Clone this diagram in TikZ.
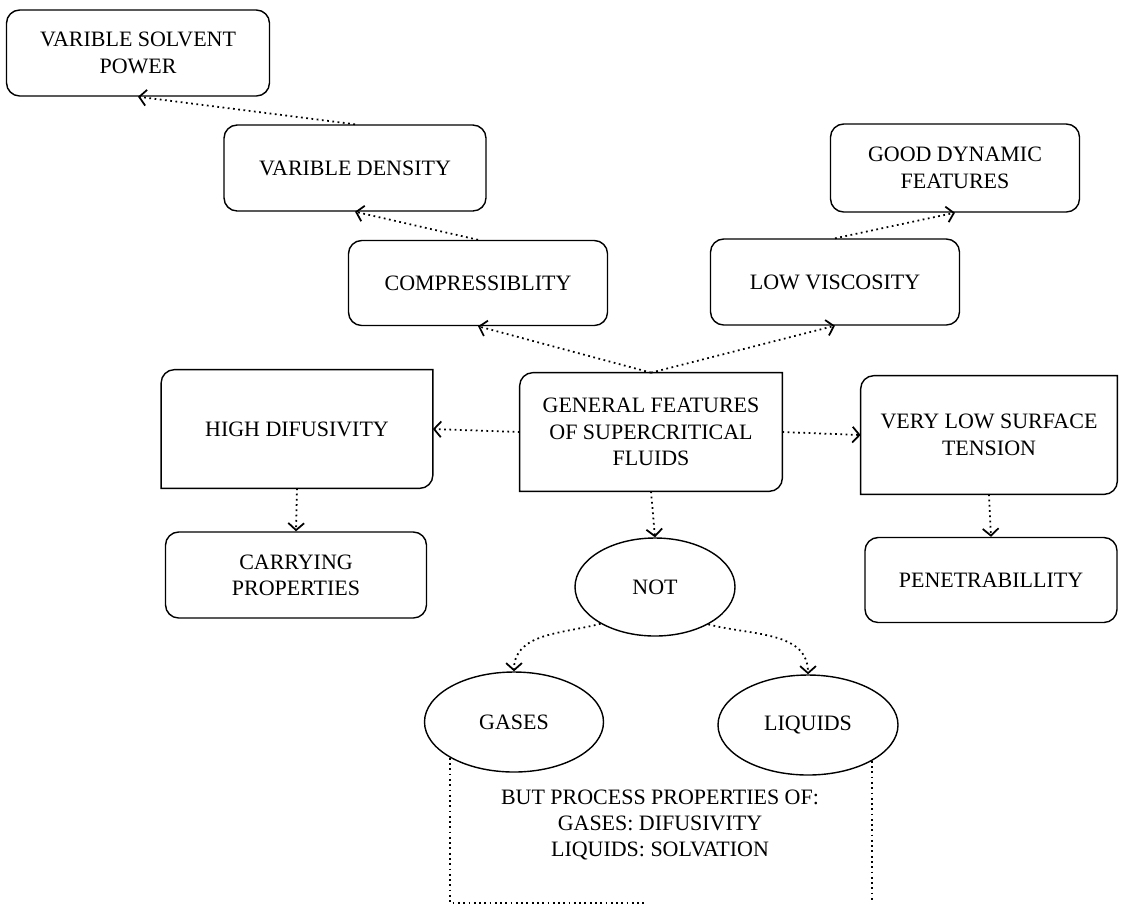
\documentclass[tikz,border=0pt]{standalone}
\usepackage{fontspec}
\setmainfont{Liberation Serif}
\usetikzlibrary{arrows.meta, shapes.geometric}

\begin{document}
\begin{tikzpicture}[
    box/.style={draw, thick, rounded corners=7.5pt, align=center, inner sep=2pt},
    diagbox/.style={align=center, inner sep=2pt},
    oval/.style={draw, thick, ellipse, inner sep=0pt},
    link/.style={dotted, line width=1pt, -{Straight Barb[length=4pt, width=9pt]}},
    font=\fontsize{12.5}{15}\selectfont
]
    \useasboundingbox (0,0) rectangle (22.9,-18.12);

    % Chains going up
    \node[box, minimum width=5.26cm, minimum height=1.72cm] (vsp) at (2.76,-1.06) {VARIBLE SOLVENT\\POWER};
    \node[box, minimum width=5.24cm, minimum height=1.72cm] (vden) at (7.10,-3.36) {VARIBLE DENSITY};
    \node[box, minimum width=5.18cm, minimum height=1.70cm] (comp) at (9.56,-5.66) {COMPRESSIBLITY};
    \node[box, minimum width=4.98cm, minimum height=1.72cm] (lvis) at (16.70,-5.64) {LOW VISCOSITY};
    \node[box, minimum width=4.98cm, minimum height=1.76cm] (gdyn) at (19.10,-3.36) {GOOD DYNAMIC\\FEATURES};

    % Middle row
    \node[diagbox, minimum width=5.42cm, minimum height=2.36cm] (hdif) at (5.94,-8.58) {HIGH DIFUSIVITY};
    \node[diagbox, minimum width=5.24cm, minimum height=2.36cm] (gen) at (13.02,-8.64) {GENERAL FEATURES\\OF SUPERCRITICAL\\FLUIDS};
    \node[diagbox, minimum width=5.12cm, minimum height=2.36cm] (vlst) at (19.78,-8.70) {VERY LOW SURFACE\\TENSION};
    \foreach \n in {hdif, gen, vlst}
        \draw[thick] (\n.south west) -- ([yshift=-7.5pt]\n.north west) arc[start angle=180, end angle=90, radius=7.5pt]
            -- (\n.north east) -- ([yshift=7.5pt]\n.south east) arc[start angle=0, end angle=-90, radius=7.5pt] -- cycle;

    \node[box, minimum width=5.22cm, minimum height=1.72cm] (carr) at (5.92,-11.50) {CARRYING\\PROPERTIES};
    \node[box, minimum width=5.04cm, minimum height=1.70cm] (pen) at (19.82,-11.60) {PENETRABILLITY};

    % Not gases, not liquids
    \node[oval, minimum width=3.2cm, minimum height=1.96cm] (not) at (13.10,-11.74) {NOT};
    \node[oval, minimum width=3.58cm, minimum height=2.0cm] (gas) at (10.28,-14.44) {GASES};
    \node[oval, minimum width=3.6cm, minimum height=2.0cm] (liq) at (16.16,-14.50) {LIQUIDS};
    \node[align=center] (but) at (13.2,-16.5) {BUT PROCESS PROPERTIES OF:\\GASES: DIFUSIVITY\\LIQUIDS: SOLVATION};
    \coordinate (cut) at (12.9,-18.06);
    \draw[dotted, line width=1pt] (gas.south west) |- (cut);
    \draw[dotted, line width=1pt] (liq.south east) -- (liq.south east |- cut);

    \draw[link] (gen.north) -- (comp.south);
    \draw[link] (gen.north) -- (lvis.south);
    \draw[link] (comp.north) -- (vden.south);
    \draw[link] (vden.north) -- (vsp.south);
    \draw[link] (lvis.north) -- (gdyn.south);
    \draw[link] (gen.west) -- (hdif.east);
    \draw[link] (gen.east) -- (vlst.west);
    \draw[link] (hdif.south) -- (carr.north);
    \draw[link] (vlst.south) -- (pen.north);
    \draw[link] (gen.south) -- (not.north);
    \draw[link] (not.214) to[out=195, in=90] (gas.north);
    \draw[link] (not.325) to[out=-15, in=90] (liq.north);
\end{tikzpicture}
\end{document}
